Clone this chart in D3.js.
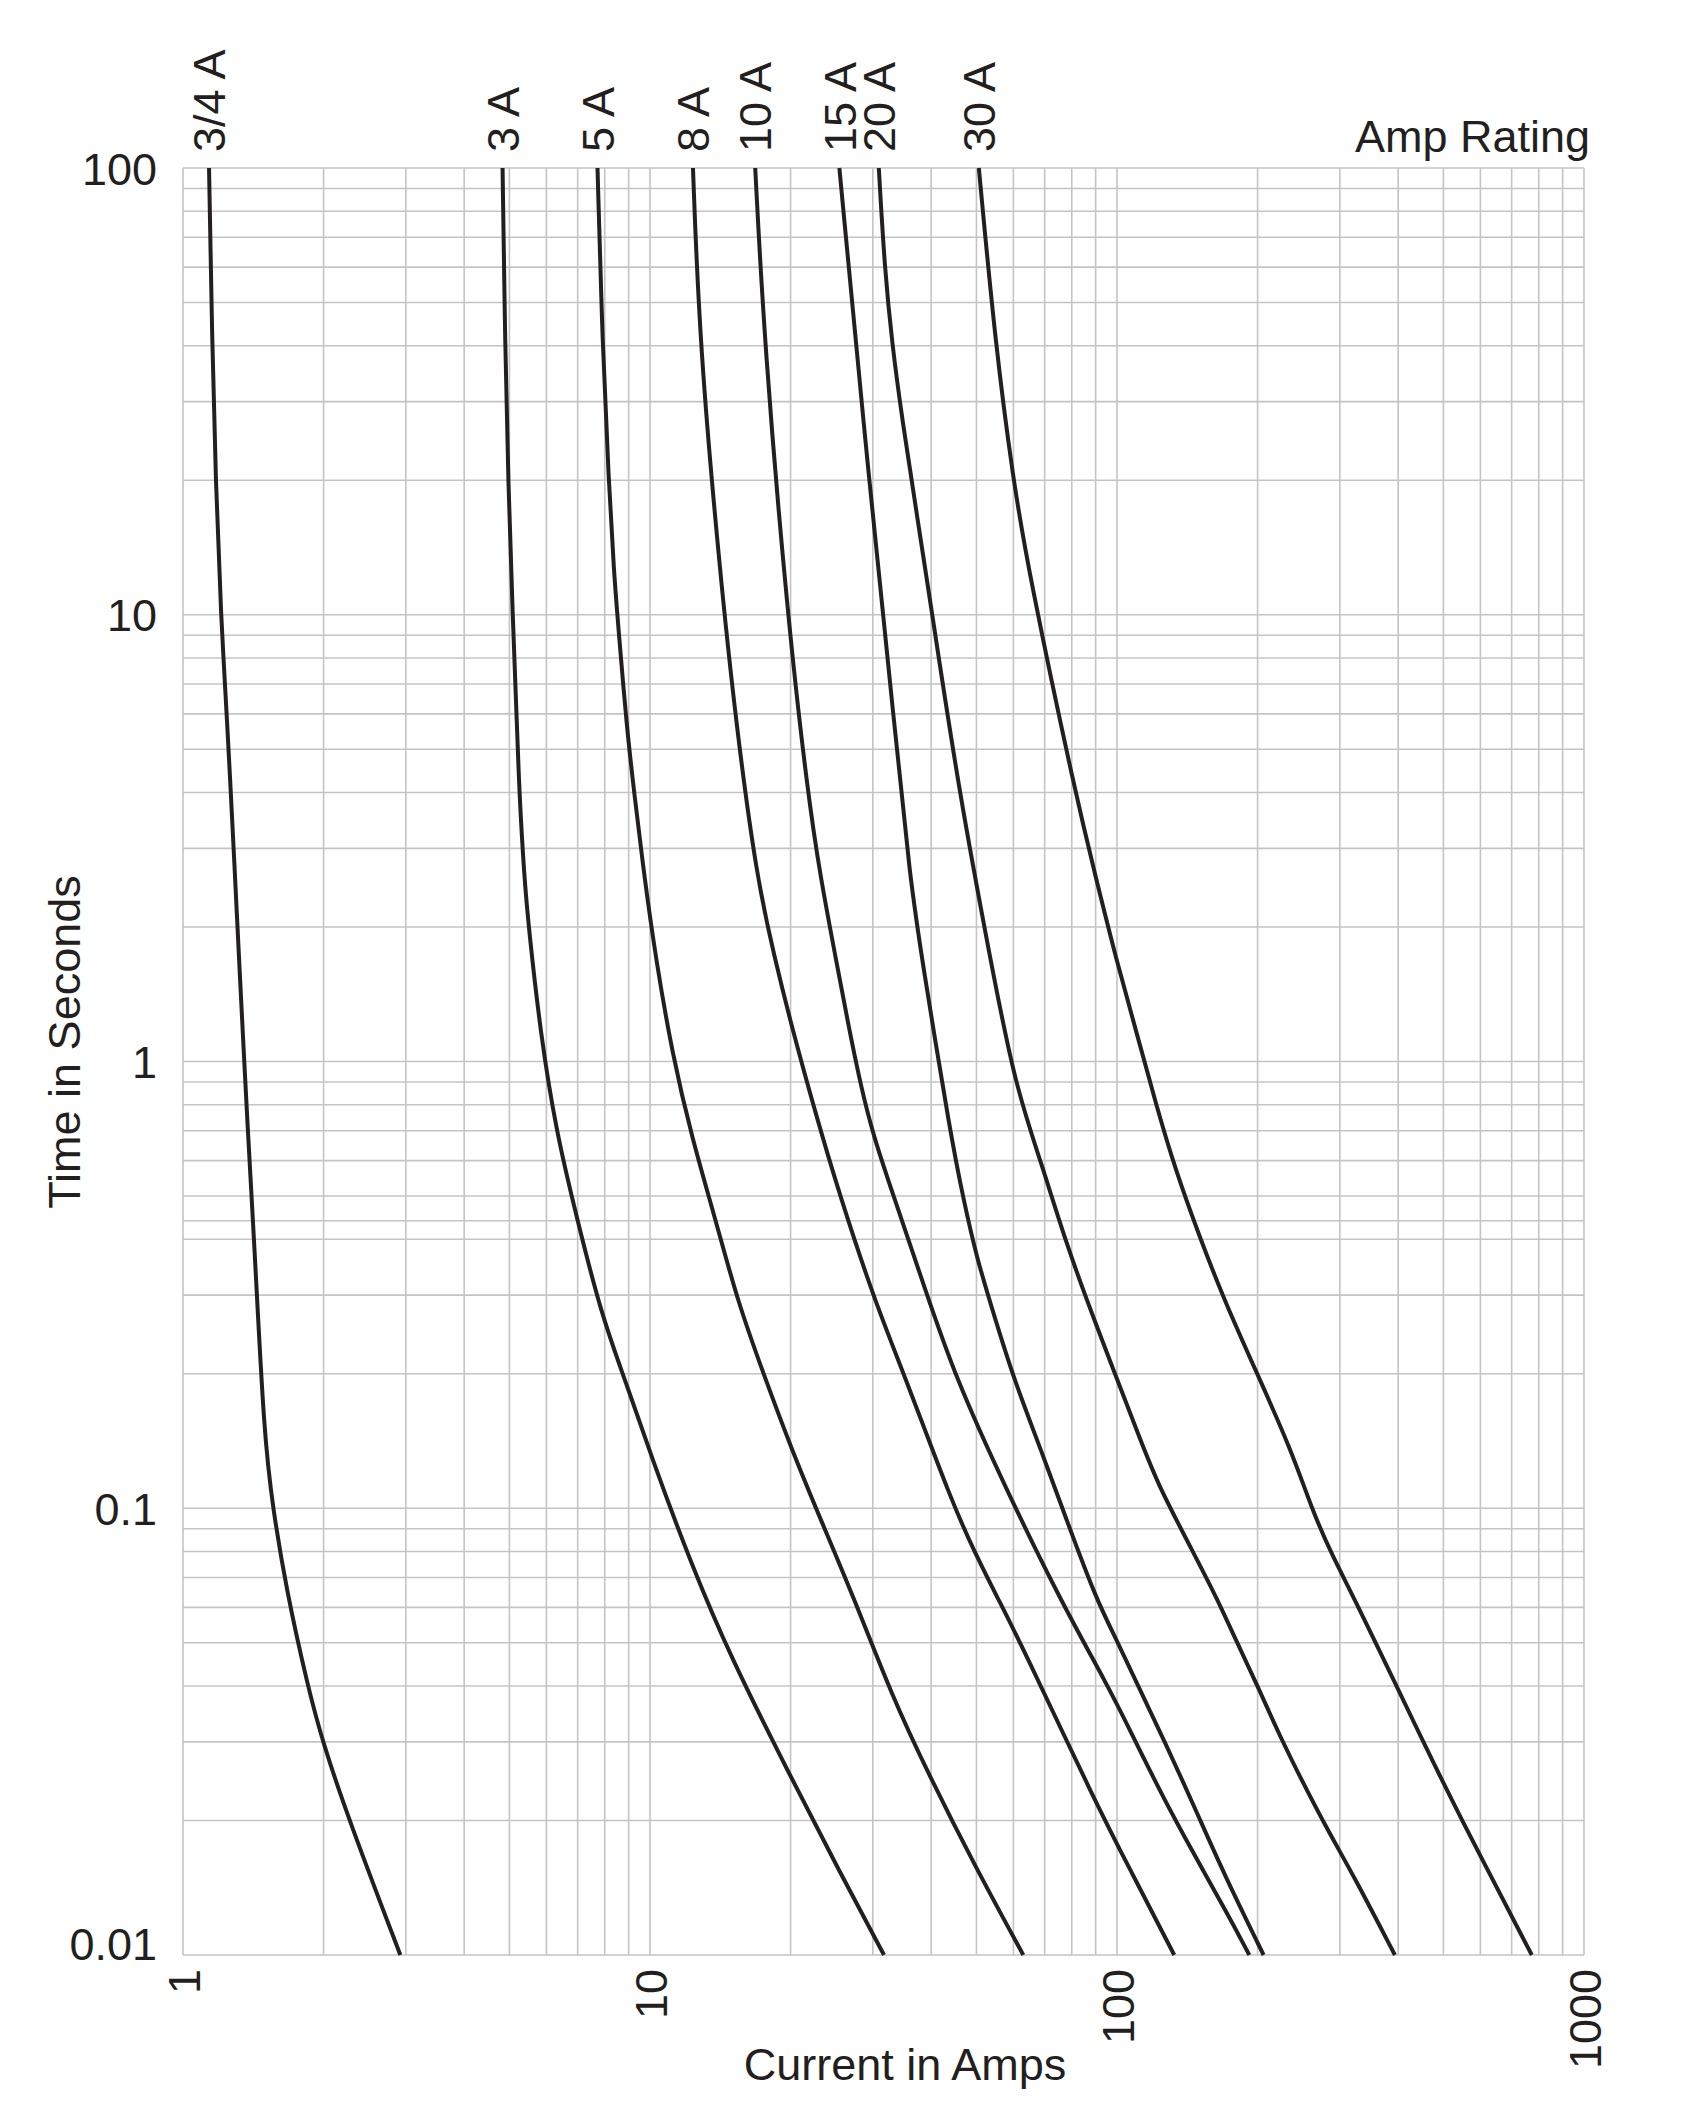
<!DOCTYPE html>
<html>
<head>
<meta charset="utf-8">
<script src="https://cdn.jsdelivr.net/npm/d3@7"></script>
<style>
  body { margin: 0; background: #fff; }
  svg text { font-family: "Liberation Sans", Arial, Helvetica, sans-serif; fill: #231f20; }
</style>
</head>
<body>
<div class="chart"></div>
<script>
// time-current curves, [amps, seconds]
const fuse34 = [[1.137,100],[1.155,40.3],[1.175,19.9],[1.205,10],[1.245,5.65],[1.293,2.58],[1.318,1.7],[1.377,0.69],[1.421,0.396],[1.491,0.145],[1.558,0.1],[1.663,0.066],[1.849,0.04],[1.99,0.03],[2.268,0.02],[2.92,0.01]]
const fuse3 = [[4.834,100],[4.895,40.3],[4.97,19.9],[5.08,10],[5.19,5.65],[5.25,3.99],[5.38,2.58],[5.5,1.99],[5.83,1.15],[6.31,0.69],[6.93,0.458],[7.87,0.27],[8.94,0.188],[10.1,0.129],[12.25,0.075],[14.87,0.0465],[19.8,0.0256],[25.43,0.0154],[31.7,0.01]]
const fuse5 = [[7.72,100],[7.91,40.3],[8.16,19.9],[8.37,12.4],[8.58,9.05],[8.91,5.65],[9.25,3.99],[9.73,2.58],[10.29,1.7],[11.16,1.04],[12.27,0.68],[13.93,0.429],[15.41,0.29],[17.59,0.197],[20.07,0.136],[23.28,0.0935],[27.47,0.0622],[32.93,0.0381],[39.63,0.0252],[49.5,0.0159],[63,0.01]]
const fuse8 = [[12.36,100],[12.77,40.3],[14.12,12.4],[15.3,5.65],[16.92,2.58],[18.5,1.7],[20.1,1.2],[22.5,0.78],[25.5,0.5],[30.32,0.29],[35.18,0.197],[44.33,0.103],[49.76,0.079],[55.85,0.0622],[62.68,0.0491],[90.8,0.0215],[107.5,0.0153],[132.6,0.01]]
const fuse10 = [[16.8,100],[17.58,40.3],[19.68,10],[21.76,3.99],[23.18,2.58],[25,1.7],[26.5,1.23],[28.25,0.885],[30.1,0.68],[33.1,0.506],[38.8,0.31],[45,0.197],[57.7,0.111],[76.7,0.0605],[95.7,0.04],[107.5,0.0313],[122.3,0.0238],[136.9,0.019],[174.4,0.0121],[192,0.01]]
const fuse15 = [[25.44,100],[29.44,19.9],[33.4,5.65],[36.02,2.58],[38.2,1.7],[44.07,0.68],[46.96,0.489],[50.03,0.364],[55.06,0.262],[60,0.196],[68.75,0.135],[78.05,0.094],[90,0.063],[100,0.0505],[111,0.04],[126.3,0.0302],[148.4,0.0208],[168.9,0.0153],[206,0.01]]
const fuse20 = [[30.9,100],[31.8,59.6],[33,40.3],[34.7,27.2],[37.5,16.1],[40.5,9.54],[45.9,4.02],[53.5,1.7],[60.5,0.885],[68.75,0.596],[78,0.389],[88.6,0.27],[110.4,0.149],[121.2,0.115],[147.2,0.078],[163.5,0.063],[180,0.0505],[200,0.04],[222,0.0313],[248.6,0.0246],[282.8,0.019],[321.7,0.015],[393.6,0.01]]
const fuse30 = [[50.6,100],[54.9,40.3],[60,19.9],[64.75,12.4],[81.4,3.99],[90.1,2.58],[99.5,1.7],[110.4,1.15],[121.2,0.802],[133,0.577],[150.6,0.402],[170.5,0.289],[199.2,0.201],[236.2,0.135],[263.4,0.0974],[289.7,0.078],[321.7,0.063],[396.8,0.04],[451.3,0.0302],[534.6,0.021],[773,0.01]]

const fuseCurves = [fuse34, fuse3, fuse5, fuse8, fuse10, fuse15, fuse20, fuse30]
const fuseLabels = ["3/4 A", "3 A", "5 A", "8 A", "10 A", "15 A", "20 A", "30 A"]

const xTicks = [1, 10, 100, 1000]
const xTickLabels = ["1", "10", "100", "1000"]
const yTicks = [100, 10, 1, 0.1, 0.01]
const yTickLabels = ["100", "10", "1", "0.1", "0.01"]
const extraGrid = [0.44] // stray rule in the original grid

const width = 1706
const height = 2120
const plot = {left: 183, right: 1584, top: 168, bottom: 1955}
const ink = "#231f20"
const fontSize = 45

const x = d3.scaleLog().domain([1, 1000]).range([plot.left, plot.right])
const y = d3.scaleLog().domain([100, 0.01]).range([plot.top, plot.bottom])

const svg = d3.create("svg")
  .attr("width", width)
  .attr("height", height)
  .attr("viewBox", [0, 0, width, height])

svg.append("rect").attr("width", width).attr("height", height).attr("fill", "#fff")

// grid
const grid = svg.append("g")
  .attr("stroke", "#c4c4c4")
  .attr("stroke-width", 1.6)

grid.selectAll("line.v")
  .data(x.ticks())
  .join("line")
  .attr("class", "v")
  .attr("x1", d => x(d)).attr("x2", d => x(d))
  .attr("y1", plot.top).attr("y2", plot.bottom)

grid.selectAll("line.h")
  .data(y.ticks().concat(extraGrid))
  .join("line")
  .attr("class", "h")
  .attr("y1", d => y(d)).attr("y2", d => y(d))
  .attr("x1", plot.left).attr("x2", plot.right)

// y axis labels
const yAxis = svg.append("g")
  .attr("transform", `translate(${plot.left},0)`)
  .call(d3.axisLeft(y).tickValues(yTicks).tickSize(0).tickPadding(26)
    .tickFormat((d, i) => yTickLabels[i]))
yAxis.select(".domain").remove()
yAxis.selectAll("text")
  .style("font-size", fontSize + "px")
  .attr("fill", ink)
  .attr("dy", (d, i) => i == yTicks.length - 1 ? "0.1em" : "0.36em")

// x axis labels, turned on their side
const xAxis = svg.append("g")
  .attr("transform", `translate(0,${plot.bottom})`)
  .call(d3.axisBottom(x).tickValues(xTicks).tickSize(0)
    .tickFormat((d, i) => xTickLabels[i]))
xAxis.select(".domain").remove()
xAxis.selectAll("text")
  .style("font-size", fontSize + "px")
  .attr("fill", ink)
  .attr("transform", "rotate(-90)")
  .attr("x", -14)
  .attr("y", 0)
  .attr("dy", "0.36em")
  .attr("text-anchor", "end")

// curves, smoothed a little since the points are hand read
const line = d3.line()
  .x(d => x(d[0]))
  .y(d => y(d[1]))
  .curve(d3.curveBasis)

svg.append("g")
  .selectAll("path")
  .data(fuseCurves)
  .join("path")
  .attr("fill", "none")
  .attr("stroke", ink)
  .attr("stroke-width", 4)
  .attr("stroke-linejoin", "round")
  .attr("d", line)

// amp rating labels above each curve
svg.append("g")
  .selectAll("text")
  .data(fuseCurves)
  .join("text")
  .attr("transform", d => `translate(${x(d[0][0])},152) rotate(-90)`)
  .attr("dy", "0.36em")
  .style("font-size", fontSize + "px")
  .text((d, i) => fuseLabels[i])

svg.append("text")
  .attr("x", 1590)
  .attr("y", 152)
  .attr("text-anchor", "end")
  .style("font-size", fontSize + "px")
  .text("Amp Rating")

svg.append("text")
  .attr("x", 905)
  .attr("y", 2080)
  .attr("text-anchor", "middle")
  .style("font-size", fontSize + "px")
  .text("Current in Amps")

svg.append("text")
  .attr("transform", "translate(80,1042) rotate(-90)")
  .attr("text-anchor", "middle")
  .style("font-size", fontSize + "px")
  .text("Time in Seconds")

document.querySelector(".chart").append(svg.node())
</script>
</body>
</html>
